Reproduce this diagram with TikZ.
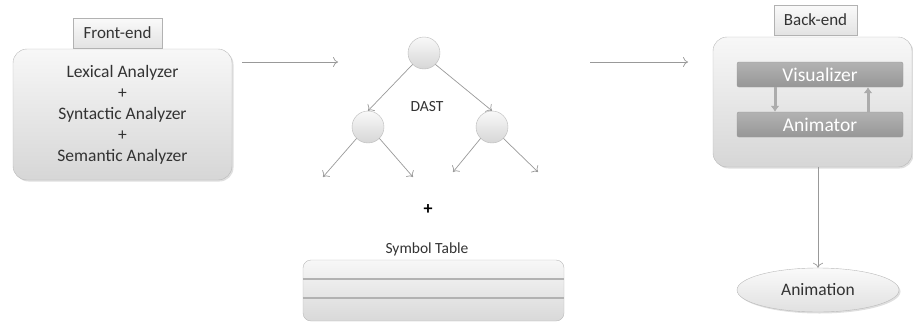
\documentclass[tikz,border=0pt]{standalone}
\usepackage{fontspec}
\setmainfont{Carlito}
\usepackage{tikz}
\usepackage{xcolor}
\usetikzlibrary{shapes.geometric, arrows.meta, shadows}
\definecolor{txt}{HTML}{333333}
\tikzstyle{block} = [rectangle, rounded corners=14pt, draw=gray!55, top color=gray!6, bottom color=gray!32, text=txt, align=center, drop shadow={opacity=0.25, shadow xshift=1.5pt, shadow yshift=-1.5pt}]
\tikzstyle{tag} = [rectangle, draw=gray!60, top color=gray!4, bottom color=gray!22, text=txt, font=\fontsize{17}{19}\selectfont]
\tikzstyle{bar} = [rectangle, rounded corners=2pt, draw=gray!80, top color=gray!60, bottom color=gray!82, text=white, font=\fontsize{19.5}{21}\selectfont, minimum width=166pt, minimum height=25pt]
\tikzstyle{treenode} = [circle, draw=gray!55, top color=gray!5, bottom color=gray!32, minimum size=32pt, inner sep=0pt]
\tikzstyle{arrow} = [gray!80, line width=0.7pt, -{To[length=5pt, width=10pt]}]
\tikzstyle{fatarrow} = [gray!65, line width=3pt, -{Latex[length=6pt, width=9pt]}]

\begin{document}
\begin{tikzpicture}[x=1pt, y=-1pt]
\useasboundingbox (0,0) rectangle (913,322);
% front-end
\node (front) [block, minimum width=219pt, minimum height=131pt, font=\fontsize{17.5}{21}\selectfont] at (122.5,114.5) {Lexical Analyzer\\+\\Syntactic Analyzer\\+\\Semantic Analyzer};
\node (fronttag) [tag, minimum width=89pt, minimum height=30pt] at (117.5,33) {Front-end};
\coordinate (in1) at (242,62);
\coordinate (out1) at (338,62);
\draw [arrow] (in1) -- (out1);
% DAST tree
\node (root) [treenode] at (424,53) {};
\node (lchild) [treenode] at (368,127) {};
\node (rchild) [treenode] at (492,127) {};
\node (dast) [text=txt, font=\fontsize{15.5}{17}\selectfont] at (427,107) {DAST};
\draw [arrow] (root.south west) -- (lchild.north);
\draw [arrow] (root.south east) -- (rchild.north);
\coordinate (leaf1) at (323,177);
\coordinate (leaf2) at (413,177);
\coordinate (leaf3) at (453,172);
\coordinate (leaf4) at (538,172);
\draw [arrow] (lchild.south west) -- (leaf1);
\draw [arrow] (lchild.south east) -- (leaf2);
\draw [arrow] (rchild.south west) -- (leaf3);
\draw [arrow] (rchild.south east) -- (leaf4);
\node (plus) [font=\fontsize{18}{19}\selectfont\bfseries] at (428,210) {+};
% symbol table
\node (symlabel) [text=txt, font=\fontsize{15.5}{17}\selectfont] at (427,249) {Symbol Table};
\node (table) [rectangle, rounded corners=8pt, draw=gray!55, top color=gray!6, bottom color=gray!30, minimum width=261pt, minimum height=61pt] at (433.5,290.5) {};
\draw [gray!60, line width=1.2pt] (table.west |- 0,279) -- (table.east |- 0,279);
\draw [gray!60, line width=1.2pt] (table.west |- 0,298) -- (table.east |- 0,298);
\coordinate (in2) at (590,62);
\coordinate (out2) at (688,62);
\draw [arrow] (in2) -- (out2);
% back-end
\node (back) [block, minimum width=199pt, minimum height=130pt] at (812.5,102) {};
\node (backtag) [tag, minimum width=83pt, minimum height=30pt] at (815.5,20) {Back-end};
\node (vis) [bar] at (820,74.5) {Visualizer};
\node (ani) [bar] at (820,124.5) {Animator};
\draw [fatarrow] ([xshift=-45pt]vis.south) -- ([xshift=-45pt]ani.north);
\draw [fatarrow] ([xshift=48pt]ani.north) -- ([xshift=48pt]vis.south);
\node (anim) [ellipse, draw=gray!55, top color=gray!4, bottom color=gray!24, text=txt, font=\fontsize{17.5}{19}\selectfont, minimum width=162pt, minimum height=44pt, drop shadow={opacity=0.25, shadow xshift=1.5pt, shadow yshift=-1.5pt}] at (818,290) {Animation};
\draw [arrow] (anim.north |- back.south) -- (anim.north);
\end{tikzpicture}
\end{document}
